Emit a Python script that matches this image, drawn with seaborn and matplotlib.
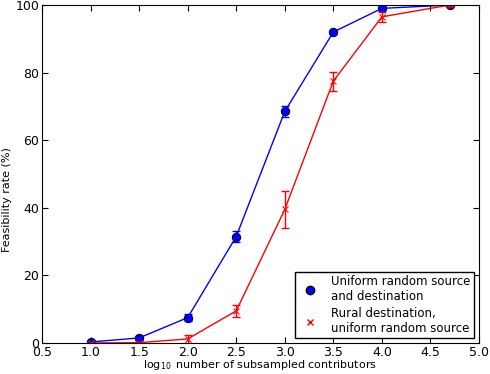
import matplotlib
matplotlib.use('Agg')
import matplotlib.pyplot as plt
from matplotlib.lines import Line2D
import seaborn as sns
import pandas as pd

# log10 of subsampled contributors
log_n = [1.0, 1.5, 2.0, 2.5, 3.0, 3.5, 4.0, 4.7]

# uniform random source and destination
uniform_rate = [0.3, 1.5, 7.5, 31.5, 68.5, 92.0, 99.0, 100.0]
uniform_err = [0.3, 0.5, 1.0, 1.5, 1.5, 0.5, 0.5, 0.2]

# rural destination, uniform random source
rural_rate = [0.0, 0.1, 1.2, 9.5, 39.5, 77.5, 96.5, 100.0]
rural_err = [0.1, 0.2, 1.2, 1.8, 5.5, 2.8, 1.5, 0.3]

sns.set_style('ticks', {'text.color': 'black', 'xtick.color': 'black', 'ytick.color': 'black',
                        'axes.labelcolor': 'black', 'axes.edgecolor': 'black'})
plt.rcParams['font.family'] = ['DejaVu Sans']

df = pd.DataFrame({'x': log_n, 'uni': uniform_rate, 'rur': rural_rate})

fig = plt.figure(figsize=(4.9, 3.74), dpi=100)
ax = fig.add_axes([42/490, 31/374, 437/490, 338/374])

sns.lineplot(data=df, x='x', y='uni', color='blue', lw=1, ax=ax,
             marker='o', markersize=6, markerfacecolor='blue', markeredgecolor='black')
ax.errorbar(log_n, uniform_rate, yerr=uniform_err, fmt='none', ecolor='blue', capsize=3, lw=1)

sns.lineplot(data=df, x='x', y='rur', color='red', lw=1, ax=ax,
             marker='x', markersize=4, markeredgecolor='red')
ax.errorbar(log_n, rural_rate, yerr=rural_err, fmt='none', ecolor='red', capsize=3, lw=1)

ax.set_xlim(0.5, 5.0)
ax.set_ylim(0, 100)
ax.set_xticks([0.5, 1.0, 1.5, 2.0, 2.5, 3.0, 3.5, 4.0, 4.5, 5.0])
ax.set_yticks([0, 20, 40, 60, 80, 100])
ax.tick_params(direction='in', length=4, labelsize=9, pad=2, top=True, right=True,
               colors='black')
for s in ax.spines.values():
    s.set_visible(True)
    s.set_color('black')
ax.set_xlabel('')
ax.set_ylabel('')
fig.text(260/490, 2/374, r'$\mathregular{\log_{10}}$ number of subsampled contributors',
         fontsize=8, ha='center', va='bottom', color='black')
fig.text(2/490, 174/374, 'Feasibility rate (%)', fontsize=8, rotation=90,
         ha='left', va='center', color='black')

handles = [
    Line2D([], [], ls='none', marker='o', markerfacecolor='blue', markeredgecolor='black', markersize=6),
    Line2D([], [], ls='none', marker='x', color='red', markersize=5),
]
leg = ax.legend(handles, ['Uniform random source\nand destination', 'Rural destination,\nuniform random source'],
                loc='lower right', fontsize=8.5, frameon=True, fancybox=False, edgecolor='black',
                framealpha=1, borderaxespad=0.4, handletextpad=0.8, labelspacing=0.3,
                borderpad=0.3)
for t in leg.get_texts():
    t.set_color('black')

fig.savefig('out.png', dpi=100)
